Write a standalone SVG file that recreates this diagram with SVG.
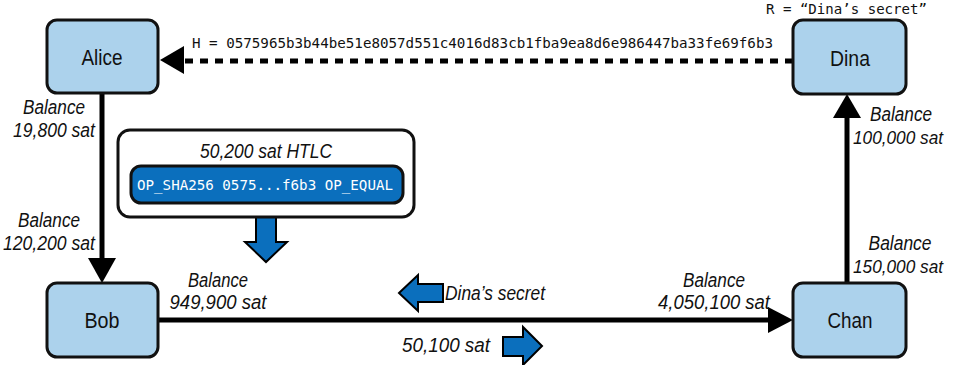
<svg xmlns="http://www.w3.org/2000/svg" width="954" height="365" viewBox="0 0 954 365">
<style>
.node{fill:#acd2ec;stroke:#111;stroke-width:3}
.nl{font-family:"Liberation Sans",Arial,sans-serif;font-size:22px;fill:#111;text-anchor:middle}
.lb{font-family:"Liberation Sans",Arial,sans-serif;font-style:italic;font-size:20px;fill:#111;text-anchor:middle}
.lbs{font-size:18.5px}
.mono{font-family:"DejaVu Sans Mono","Liberation Mono",monospace;font-size:13.5px;fill:#111}
.edge{stroke:#000;stroke-width:5;fill:none}
.barrow{fill:#0b6fbd;stroke:#000;stroke-width:2;stroke-linejoin:miter}
</style>
<rect width="954" height="365" fill="#fff"/>
<g id="connectors">
  <line class="edge" x1="793" y1="61" x2="183" y2="61" stroke-dasharray="8,7"/>
  <polygon points="160,60 184,46 184,74" fill="#000"/>
  <line class="edge" x1="102" y1="93" x2="102" y2="260"/>
  <polygon points="102,283 88,258 116,258" fill="#000"/>
  <line class="edge" x1="158" y1="320" x2="770" y2="320"/>
  <polygon points="793,320 768,307 768,333" fill="#000"/>
  <line class="edge" x1="847" y1="283" x2="847" y2="116"/>
  <polygon points="847,94 833,118 861,118" fill="#000"/>
</g>
<g id="labels">
  <text class="mono" x="192" y="48" textLength="581" lengthAdjust="spacingAndGlyphs">H = 0575965b3b44be51e8057d551c4016d83cb1fba9ea8d6e986447ba33fe69f6b3</text>
  <text class="mono" x="766" y="14" textLength="161" lengthAdjust="spacingAndGlyphs">R = “Dina’s secret”</text>
  <text class="lb" x="54" y="114" textLength="62" lengthAdjust="spacingAndGlyphs">Balance</text>
  <text class="lb" x="54" y="137" textLength="82" lengthAdjust="spacingAndGlyphs">19,800 sat</text>
  <text class="lb" x="49" y="227" textLength="62" lengthAdjust="spacingAndGlyphs">Balance</text>
  <text class="lb" x="49" y="250" textLength="92" lengthAdjust="spacingAndGlyphs">120,200 sat</text>
  <text class="lb" x="218" y="287" textLength="60" lengthAdjust="spacingAndGlyphs">Balance</text>
  <text class="lb" x="218" y="309" textLength="97" lengthAdjust="spacingAndGlyphs">949,900 sat</text>
  <text class="lb" x="714" y="287" textLength="62" lengthAdjust="spacingAndGlyphs">Balance</text>
  <text class="lb" x="714" y="309" textLength="112" lengthAdjust="spacingAndGlyphs">4,050,100 sat</text>
  <text class="lb" x="901" y="121" textLength="62" lengthAdjust="spacingAndGlyphs">Balance</text>
  <text class="lb lbs" x="898" y="144" textLength="90" lengthAdjust="spacingAndGlyphs">100,000 sat</text>
  <text class="lb" x="900" y="250" textLength="63" lengthAdjust="spacingAndGlyphs">Balance</text>
  <text class="lb lbs" x="898" y="273" textLength="90" lengthAdjust="spacingAndGlyphs">150,000 sat</text>
  <text class="lb" x="445" y="300" style="text-anchor:start" textLength="100" lengthAdjust="spacingAndGlyphs">Dina’s secret</text>
  <text class="lb" x="402" y="352" style="text-anchor:start" textLength="88" lengthAdjust="spacingAndGlyphs">50,100 sat</text>
</g>
<g id="flow-arrows">
  <polygon class="barrow" points="399,293 418,275 418,284 443,284 443,302 418,302 418,311"/>
  <polygon class="barrow" points="542,346 523,327 523,337 503,337 503,356 523,356 523,365"/>
  <polygon class="barrow" points="256,217 276,217 276,242 287,242 266,262 245,242 256,242"/>
</g>
<g id="htlc">
  <rect x="118" y="130" width="296" height="87" rx="12" fill="#fff" stroke="#111" stroke-width="3"/>
  <text class="lb" x="266" y="158" textLength="132" lengthAdjust="spacingAndGlyphs">50,200 sat HTLC</text>
  <rect x="131" y="166" width="272" height="37" rx="10" fill="#0b6fbd" stroke="#111" stroke-width="3"/>
  <text class="mono" x="137" y="190" style="fill:#fff" textLength="256" lengthAdjust="spacingAndGlyphs">OP_SHA256 0575...f6b3 OP_EQUAL</text>
</g>
<g id="alice">
  <rect class="node" x="47" y="20" width="111" height="73" rx="10"/>
  <text class="nl" x="102" y="65" textLength="41" lengthAdjust="spacingAndGlyphs">Alice</text>
</g>
<g id="dina">
  <rect class="node" x="793" y="20" width="113" height="74" rx="10"/>
  <text class="nl" x="850" y="66" textLength="40" lengthAdjust="spacingAndGlyphs">Dina</text>
</g>
<g id="bob">
  <rect class="node" x="47" y="283" width="111" height="74" rx="10"/>
  <text class="nl" x="102" y="328" textLength="35" lengthAdjust="spacingAndGlyphs">Bob</text>
</g>
<g id="chan">
  <rect class="node" x="793" y="283" width="113" height="74" rx="10"/>
  <text class="nl" x="850" y="328" textLength="45" lengthAdjust="spacingAndGlyphs">Chan</text>
</g>
</svg>
